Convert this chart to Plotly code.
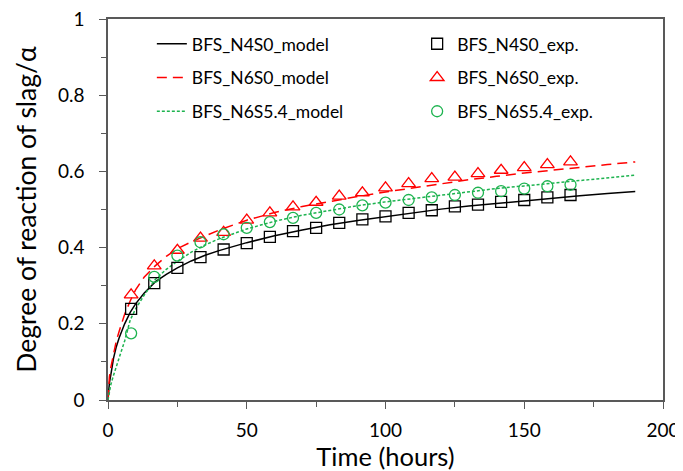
import plotly.graph_objects as go

# ---- experimental data ----
exp_time = [8.33, 16.67, 25.0, 33.33, 41.67, 50.0, 58.33, 66.67, 75.0, 83.33,
            91.67, 100.0, 108.33, 116.67, 125.0, 133.33, 141.67, 150.0, 158.33, 166.67]
n4s0_exp = [0.239, 0.307, 0.347, 0.375, 0.395, 0.412, 0.428, 0.443, 0.452, 0.465,
            0.474, 0.482, 0.491, 0.498, 0.508, 0.513, 0.520, 0.525, 0.532, 0.538]
n6s0_exp = [0.276, 0.352, 0.393, 0.425, 0.440, 0.472, 0.491, 0.507, 0.519, 0.535,
            0.544, 0.557, 0.568, 0.581, 0.585, 0.594, 0.603, 0.610, 0.618, 0.625]
n6s54_exp = [0.175, 0.323, 0.379, 0.414, 0.435, 0.452, 0.467, 0.478, 0.491, 0.500,
             0.511, 0.518, 0.525, 0.532, 0.538, 0.544, 0.548, 0.555, 0.561, 0.565]

# ---- model curves ----
model_time = [0, 0.5, 1, 2, 3, 4, 6, 8, 10, 13, 17, 21, 25, 30, 35, 40, 50, 60, 70, 80,
              90, 100, 110, 120, 130, 140, 150, 160, 170, 180, 190]
n4s0_model = [0, 0.045, 0.065, 0.11, 0.14, 0.163, 0.20, 0.23, 0.253, 0.28, 0.31, 0.33,
              0.347, 0.365, 0.38, 0.392, 0.413, 0.431, 0.446, 0.46, 0.471, 0.481, 0.491,
              0.501, 0.509, 0.516, 0.523, 0.530, 0.536, 0.542, 0.547]
n6s0_model = [0, 0.06, 0.085, 0.125, 0.155, 0.18, 0.225, 0.26, 0.29, 0.322, 0.352, 0.377,
              0.397, 0.415, 0.431, 0.446, 0.472, 0.492, 0.508, 0.522, 0.534, 0.546, 0.557,
              0.568, 0.578, 0.587, 0.596, 0.603, 0.611, 0.618, 0.625]
n6s54_model = [0, 0.025, 0.04, 0.065, 0.09, 0.11, 0.155, 0.21, 0.24, 0.275, 0.316, 0.343,
               0.364, 0.388, 0.407, 0.423, 0.449, 0.469, 0.485, 0.498, 0.51, 0.52, 0.529,
               0.538, 0.547, 0.555, 0.562, 0.569, 0.577, 0.584, 0.59]

BLACK = "#000000"
RED = "#ff0000"
GREEN = "#1db34f"
FONT = "Lato"

fig = go.Figure()

fig.add_trace(go.Scatter(x=model_time, y=n4s0_model, mode="lines", name="BFS_N4S0_model",
                         line=dict(color=BLACK, width=1.5), legend="legend", legendgroup="a"))
fig.add_trace(go.Scatter(x=model_time, y=n6s0_model, mode="lines", name="BFS_N6S0_model",
                         line=dict(color=RED, width=1.5, dash="10px,6px"), legend="legend", legendgroup="b"))
fig.add_trace(go.Scatter(x=model_time, y=n6s54_model, mode="lines", name="BFS_N6S5.4_model",
                         line=dict(color=GREEN, width=1.5, dash="3px,2px"), legend="legend", legendgroup="c"))

fig.add_trace(go.Scatter(x=exp_time, y=n4s0_exp, mode="markers", name="BFS_N4S0_exp.",
                         marker=dict(symbol="square-open", size=11, color=BLACK, line=dict(width=1.3)),
                         legend="legend2", legendgroup="d"))
fig.add_trace(go.Scatter(x=exp_time, y=n6s0_exp, mode="markers", name="BFS_N6S0_exp.",
                         marker=dict(symbol="triangle-up-open", size=12, color=RED, line=dict(width=1.3)),
                         legend="legend2", legendgroup="e"))
fig.add_trace(go.Scatter(x=exp_time, y=n6s54_exp, mode="markers", name="BFS_N6S5.4_exp.",
                         marker=dict(symbol="circle-open", size=11, color=GREEN, line=dict(width=1.3)),
                         legend="legend2", legendgroup="f"))

axis_common = dict(
    showline=True, linecolor="#595959", linewidth=1.5, mirror=True,
    ticks="outside", ticklen=7, tickwidth=1.3, tickcolor="#595959",
    showgrid=False, zeroline=False, automargin=False, ticklabeloverflow="allow",
    tickfont=dict(family=FONT, size=19, color="#000000"),
)

# the page body adds an 8px offset, so the figure is 8px smaller than the window
fig.update_layout(
    width=675, height=463,
    margin=dict(l=100, r=20, t=11, b=71),
    paper_bgcolor="white", plot_bgcolor="white",
    font=dict(family=FONT, color="#000000"),
    xaxis=dict(range=[0, 200], dtick=50, tick0=0, ticklabelstandoff=5,
               minor=dict(ticks="outside", ticklen=5, dtick=25, tickcolor="#595959", tickwidth=1.3),
               title=dict(text="Time (hours)", font=dict(family=FONT, size=25.5), standoff=4),
               **axis_common),
    yaxis=dict(range=[0, 1], dtick=0.2, tick0=0, ticklabelstandoff=11,
               minor=dict(ticks="outside", ticklen=5, dtick=0.1, tickcolor="#595959", tickwidth=1.3),
               title=dict(text="Degree of reaction of slag/α", font=dict(family=FONT, size=26.5), standoff=14),
               **axis_common),
    legend=dict(x=0.079, y=0.982, xanchor="left", yanchor="top", bgcolor="rgba(0,0,0,0)",
                font=dict(family=FONT, size=17.5), traceorder="grouped", tracegroupgap=8,
                itemwidth=30),
    legend2=dict(x=0.557, y=0.982, xanchor="left", yanchor="top", bgcolor="rgba(0,0,0,0)",
                 font=dict(family=FONT, size=17.5), traceorder="grouped", tracegroupgap=8,
                 itemwidth=30),
)

fig.write_html("out.html")
